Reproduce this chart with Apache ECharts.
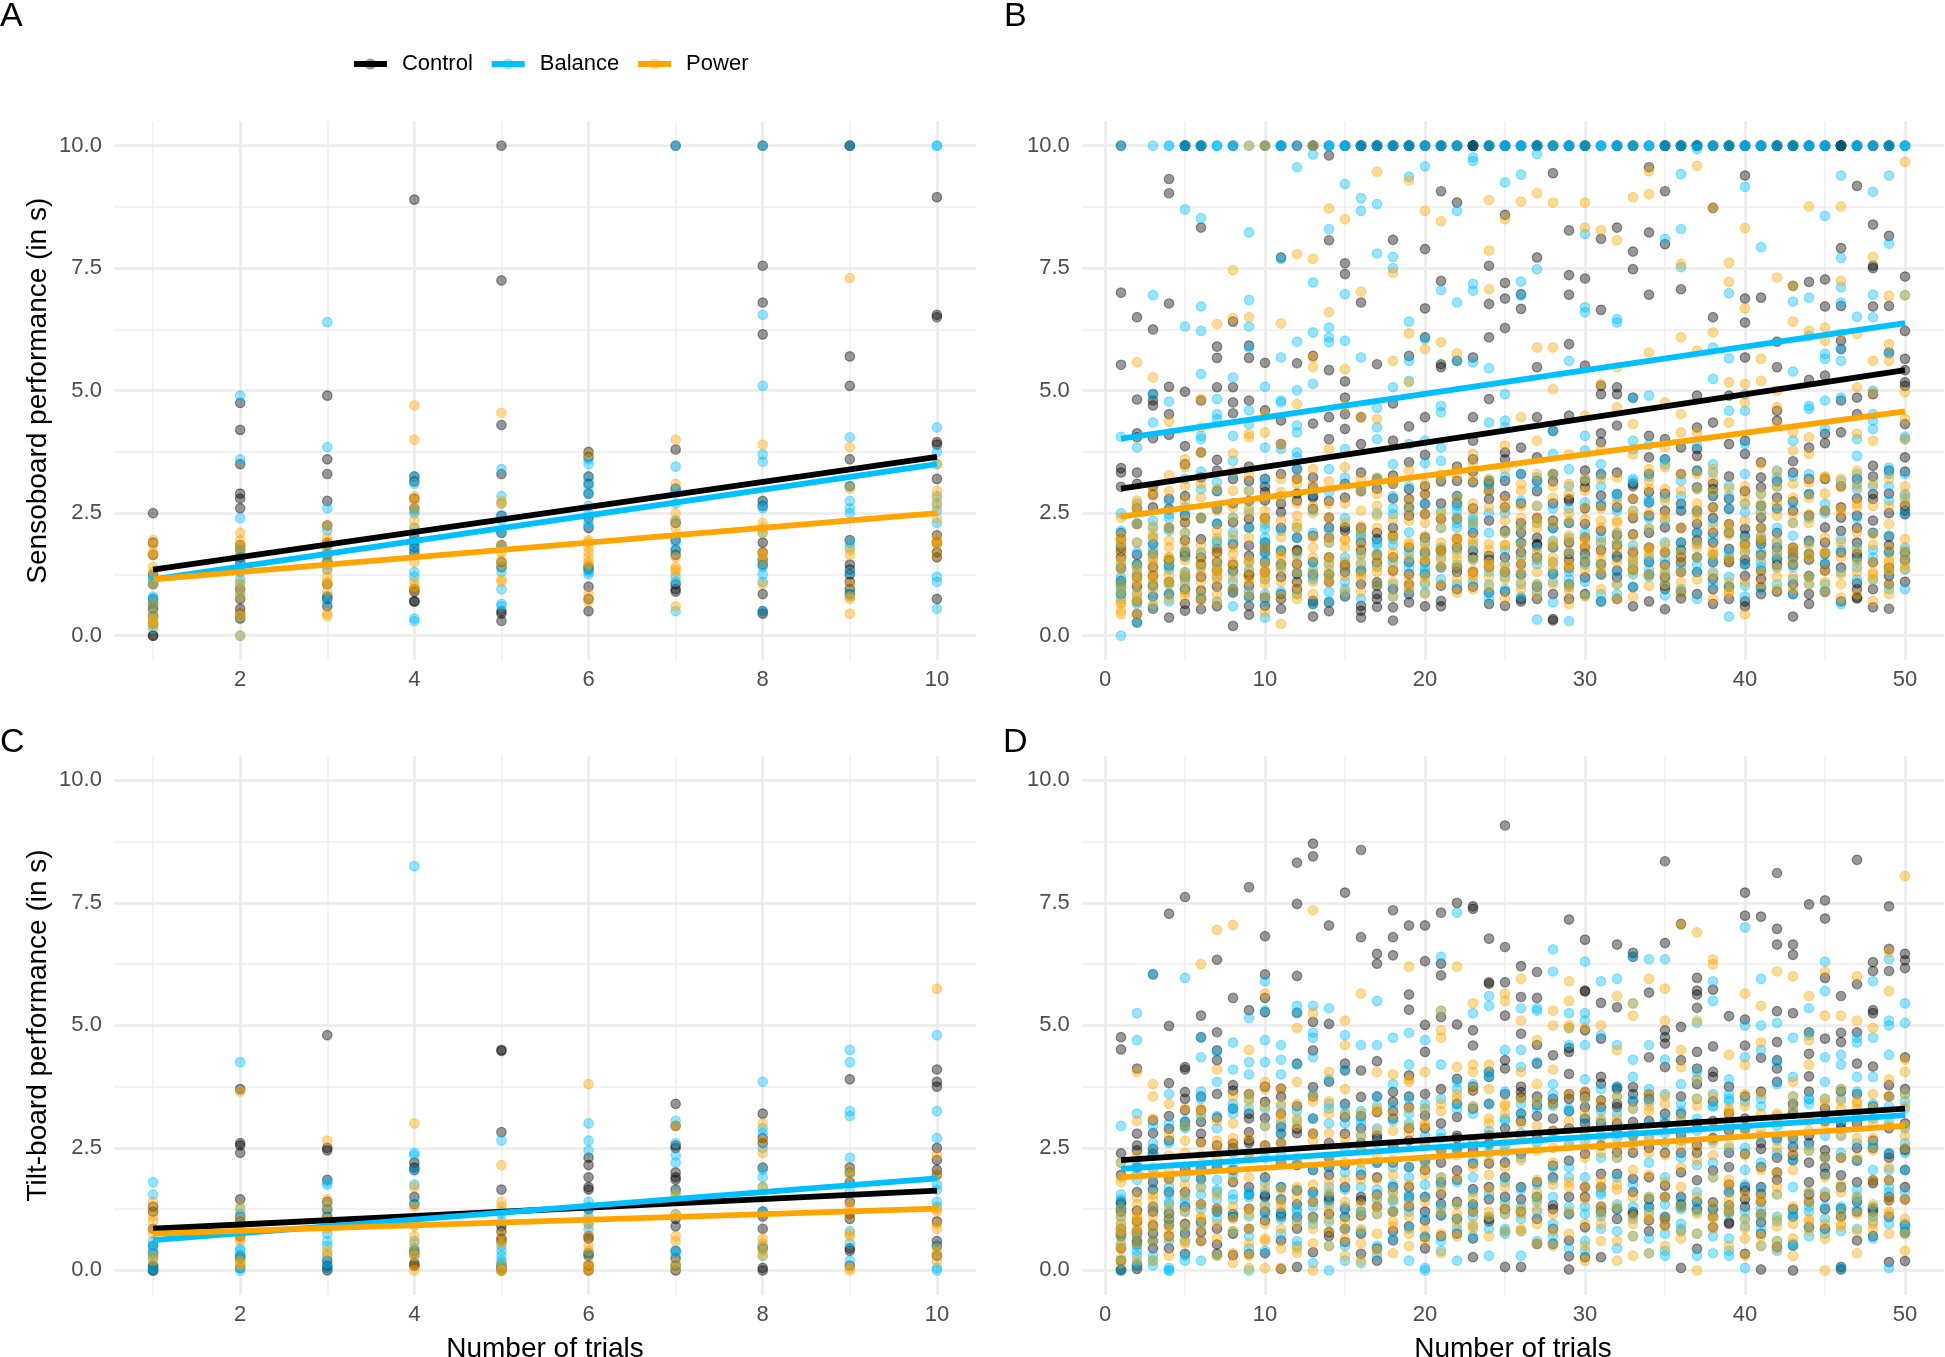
<!DOCTYPE html>
<html>
<head>
<meta charset="utf-8">
<style>html,body{margin:0;padding:0;background:#fff}#c{width:1945px;height:1357px}</style>
<script src="https://cdn.jsdelivr.net/npm/echarts@6/dist/echarts.min.js"></script>
</head>
<body>
<div id="c"></div>
<script>
// ---- group names and tick labels ----
const groupNames = ['Control', 'Balance', 'Power'];
const yTicks = [0, 2.5, 5, 7.5, 10];
const yMinor = [1.25, 3.75, 6.25, 8.75];
const xTicksShort = [2, 4, 6, 8, 10];
const xMinorShort = [1, 3, 5, 7, 9];
const xTicksLong = [0, 10, 20, 30, 40, 50];
const xMinorLong = [5, 15, 25, 35, 45];

// ---- fitted lines (value at first and last trial) ----
const aLines = [[1.35, 3.65], [1.15, 3.5], [1.15, 2.5]];
const bLines = [[3.0, 5.42], [4.02, 6.38], [2.43, 4.58]];
const cLines = [[0.85, 1.63], [0.62, 1.88], [0.75, 1.26]];
const dLines = [[2.25, 3.3], [2.07, 3.17], [1.9, 2.95]];

// ---- panel A: one list per trial 1..10 ----
const aControl = [
[2.5,1.9,1.65,1.25,1.05,.75,.65,.55,.4,.25,0,0],
[4.75,4.2,3.5,2.9,2.8,2.6,1.85,1.75,1.6,1.5,.95,.75,.55,.45,.35],
[4.9,3.6,3.3,2.75,2.25,1.9,1.85,1.65,1.5,1.05,.8,.75,.6],
[8.9,3.25,3.15,2.8,2.6,2,1.9,1.8,1.7,.95,.9,.7,.7],
[10,7.25,4.3,3.3,2.45,2.1,1.85,1.5,1.4,.5,.45,.3],
[3.75,3.65,3.25,3.1,2.9,2.4,2.2,1.4,1.35,1,.75,.5],
[10,3.8,3,2.3,1.95,1.75,1.65,1.05,.95,.9],
[10,7.55,6.8,6.15,2.75,2.65,1.9,1.7,1.55,1.45,.85,.5,.45],
[10,10,5.7,5.1,3.6,3.05,1.95,1.45,1.35,1.25,1.1,.95,.85],
[8.95,6.55,6.5,3.95,3.9,3.2,2.05,1.9,1.7,1.6,.75]];
const aBalance = [
[1.2,1.15,1.1,.8,.75,.6,.4,.35,.25,.15],
[4.9,3.6,2.4,1.8,1.65,1.5,1.3,1.15,1.05,.85,.4,0],
[6.4,3.85,2.6,2.15,1.7,1.55,1.45,1.35,.8,.7],
[3.25,3.1,2.55,2.5,2.2,2.1,1.85,1.75,1.3,1.2,.35,.3],
[3.4,2.85,2.7,2.45,2.35,2.1,1.8,1.4,1.3,.95,.65,.6],
[3.6,3.5,3.2,3.05,2.9,2.65,2.5,2.3,2.25,1.4,1.3,1.25],
[10,3.45,3,2.95,2.7,2.35,1.9,1.75,1.2,1.1,.5],
[10,6.55,5.1,3.7,3.55,2.7,2.6,2.1,1.55,1.4,1.25,1.1,.5],
[10,4.05,3.05,2.75,2.6,2.5,1.9,1.8,1.3,.9,.8],
[10,10,4.25,3.75,3.5,2.85,2.7,2.55,2.3,1.2,1.1,.55]];
const aPower = [
[1.95,1.85,1.7,1.65,1.4,1.3,1.05,.65,.45,.35,.3,.25,.2],
[2.1,1.95,1.85,1.75,1.1,.95,.8,.45,.4,0],
[2.25,2,1.9,1.75,1.6,1.35,1.2,1.1,1.05,.9,.45,.4],
[4.7,4,2.85,2.75,2.6,2.35,2.2,1.5,1.1,1,.95],
[4.55,2.75,2.7,1.85,1.7,1.55,1.45,1.15,1.1],
[3.7,1.95,1.9,1.8,1.7,1.6,1.5,1.45,.85,.7],
[4,3.1,2.5,2.35,2.2,1.6,1.4,1.35,1.3,.6],
[3.9,2.3,2.2,2.1,1.7,1.65,1.55,1.05],
[7.3,3.85,3,1.75,1.65,1.05,.8,.75,.45],
[3.5,2.95,2.8,2.65,2.4,2,1.9,1.85,1.65]];

// ---- panel C: one list per trial 1..10 ----
const cControl = [
[1.3,1.2,.85,.5,.35,.1,.05,0,0],
[3.7,2.6,2.55,2.4,1.45,1.1,1,.7,.3,.25,.05],
[4.8,2.5,2.45,1.85,1.4,1.25,1.1,.2,.1,.05,0],
[2.2,2.1,2.05,1.5,1.35,.4,.35,.15,.1,.1],
[4.5,4.48,2.82,1.65,.9,.8,.65,.6,.1,.05,0],
[2.3,2.15,1.9,1.7,1.65,1.25,.7,.65,.35,.3,.1,0],
[3.4,2.95,2.55,2.5,2,1.9,1.85,1.65,1.05,.9,.4,.25,.1,0],
[3.2,2.7,2.6,2.1,1.2,1.1,.85,.45,.05,0],
[3.9,2.1,2,1.8,1.4,1.15,1.05,.45,.4,.1],
[4.1,3.85,3.75,2.5,2.25,2.05,1.95,1,.6,.5,.3]];
const cBalance = [
[1.8,1.55,.6,.5,.4,.35,.3,.25,.05,0],
[4.25,1.25,1.15,.95,.45,.4,.3,.25,.05,0],
[1.8,1.75,1.35,1.2,.75,.6,.5,.3,.15,.05],
[8.25,2.4,2.35,2.05,1.75,1.4,.95,.6,.45,.3],
[2.65,1.2,1.15,1,.5,.4,.3,.2,.15,.05],
[3,2.65,2.45,1.4,1.3,1.25,1.1,.95,.85,.35],
[3.05,2.6,2.35,2.2,1.6,1.45,1.15,.4,.35,.1],
[3.85,2.9,2.8,2.5,2.05,1.9,1.7,1.2,.5,.3],
[4.5,4.25,3.25,3.15,2.3,2,1.6,.8,.55,.2],
[4.8,3.25,2.7,1.75,1.65,1.4,1.3,.5,.05,0]];
const cPower = [
[1.4,1.25,1.1,1,.85,.75,.3,.2],
[3.65,1.3,1.05,.65,.6,.2,.15,.1],
[2.65,1.45,1.3,1.05,.9,.85,.4,.35],
[3,1.7,1.3,.9,.7,.55,.35,.3,.1,0],
[2.15,1.4,1.3,.75,.6,.55,.1,0,0],
[3.8,1.05,.95,.7,.5,.4,.15,.05,0],
[2.95,1.55,1.5,1.15,.7,.6,.15,.05],
[3,2.65,2.4,1.7,.65,.55,.4,.3],
[2.05,1.95,1.35,1.25,1.1,.75,.7,.05,0],
[5.75,2.35,1.95,1.25,1.2,.95,.85,.45,.35,.2]];

// ---- panel B: number of recordings at the 10.0 ceiling per trial 1..50 ----
const bTopControl = [1,0,0,0,4,3,0,1,0,1,2,1,2,1,2,4,4,3,4,2,3,2,6,3,3,2,4,2,3,3,1,3,2,1,4,4,4,2,4,3,3,4,4,3,3,6,3,2,4,1];
const bTopBalance = [1,0,1,2,2,2,3,2,1,1,3,1,1,3,3,2,2,2,2,2,2,2,1,2,3,3,2,2,3,2,3,3,2,3,2,2,2,2,2,3,3,2,2,3,3,1,3,2,2,3];
const bTopPower = [0,0,0,0,0,0,0,0,1,1,0,0,1,0,0,0,0,0,0,0,0,0,0,0,0,0,0,0,0,0,0,0,0,0,0,0,0,0,0,0,0,0,0,0,0,0,0,0,0,0];

// ---- panel B: one list per trial 1..50 (below the ceiling) ----
const bControl = [
[7,5.53,3.42,3.33,3.04,1.97,1.8,1.73,1.38,1.12,1.05],
[6.5,4.82,4.13,4.05,3.33,3.1,2.28,1.65,1.46,1,.44,.27],
[6.25,4.93,4.8,4.7,4.03,2.88,2.62,1.87,1.67,1.22,1.02,.8],
[9.32,9.03,6.78,5.08,4.52,4.1,2.79,2.59,1.53,1.43,1.1,.37],
[4.98,3.87,3.5,2.45,2.31,1.7,1.63,1.2,.65,.51],
[8.33,4.8,3.74,3.23,1.97,1.6,1.46,.92,.54],
[5.9,5.67,5.07,3.59,3.37,2.59,2.28,1.77,1.7,1.33,1],
[6.41,5.07,4.76,4.54,3.2,2.31,1.87,1.33,.88,.2],
[5.92,5.67,4.8,3.45,3.16,2.38,2.21,1.84,1.63,1.22,1.02,.61,.43],
[5.57,4.6,3.04,2.93,2.76,1.9,1.8,1.7,1.5,.78,.61],
[7.72,4.39,3.91,2.69,2.52,1.73,1.46,1.2,.85,.75],
[5.56,2.76,3.2,2,1.73,1.46,1.26,2.9,1.1],
[5.71,4.33,3.23,3.03,2.82,2.59,2.04,1.5,.71,.39],
[9.8,8.07,5.42,4.46,4.01,2.41,2.21,1.6,2,.68,1.1],
[7.6,7.38,5.19,4.86,4.52,4.22,2.82,2.21,2.14,1.45,1.3],
[6.8,4.46,3.91,3.33,1.33,.61,.51,.37,1.9,2.2],
[5.54,2.1,1.97,1.5,1.09,1.02,.75,.59,3.2],
[8.08,4.74,3.98,3.27,2.8,2.04,1.33,.58,.31,1.6],
[5.71,4.27,3.54,2.99,2.79,2.62,1.26,1.05,.68,1.8],
[7.89,6.68,6.09,4.46,3.69,2.89,2.69,2.48,1.7,1.26,2],
[9.07,7.24,5.54,5.48,2.7,2.38,1.73,1.02,.71,1.4],
[8.84,5.61,3.45,3.16,2.38,1.97,1.8,1.39,2.7],
[5.68,4.46,3.98,3.6,3.13,1.73,1.6,2.6,1.3],
[7.55,6.77,6.09,4.83,3.16,2.96,2.79,2.35,1.63,.88,1.4],
[8.59,7.2,6.88,6.28,3.74,3.6,3.16,2.62,2.14,.61,1.6],
[6.97,6.67,3.84,2.7,1.46,.75,.7,1.7,2.3,1.9],
[7.72,5.48,4.46,3.64,3.16,1.87,1.6,2.4,2,1],
[9.44,4.18,2.7,1.8,1.26,.34,.31,3.3,2.2],
[8.27,7.36,6.96,5.95,4.49,2.79,1.67,1.38,1.05,2.3,1.9],
[7.29,5.51,3.37,3.03,2.28,1.67,1.19,2.6,2,1.5],
[8.1,6.65,5.1,4.93,4.13,3.95,3.3,2.86,2.65,2.14,1.46],
[8.33,5.07,4.93,4.29,3.33,2.89,2.62,1.84,1.63,1.33,1.19],
[7.84,7.48,4.86,2.79,2.07,.99,1.7,3.1,2.4],
[9.56,8.23,6.96,4.08,3.64,2.93,2.72,1.8,.7,2.1,1.5],
[9.07,7.99,4.01,3.6,2.21,1.19,1.02,.54,2.9,1.7],
[7.07,3.84,2.69,2.55,1.6,1.5,.76,2.2,1.9,1.3],
[4.9,4.25,3.81,3.67,3.37,3.03,2.28,2.1,1.6,1.3],
[8.73,6.5,4.35,3.1,2.99,2.62,1.9,1.5,1.16,.95,2.4],
[4.9,3.91,2.79,2.59,2.28,1.77,2.1,1.5,1],
[9.39,6.88,6.39,5.68,3.98,3.71,2.18,2.04,1.87,1.46,1.22,.7],
[6.9,3.54,3.23,3.03,2.41,1.87,1.33,1.16,.99,2.2,1.65],
[6,5.48,4.59,4.39,2.82,1.56,2.6,2.1,1.8],
[7.14,3.56,3.33,2.74,1.8,1.7,1.6,1.05,.39],
[7.22,5.22,3.84,2.89,2.45,1.94,1.67,1.22,.85],
[7.27,6.72,5.31,4.12,3.93,3.2,2.21,1.67,1.46,1.33],
[7.91,6.73,6.02,5.85,4.8,4.15,2.62,2.41,2.14,1.39],
[9.18,4.86,4.52,1.67,1.6,1.07,.78,.76,3.2,2.8,2.2],
[8.39,7.55,7.5,6.72,4.93,3.47,2.89,2.79,.58,2.1,1.5],
[8.16,6.73,5.78,3.37,2.02,1.71,1.39,1.22,1.05,2.5],
[7.33,6.22,5.65,5.42,5.17,5.1,4.32,3.64,2.65,2.48,1.7,2.55]];
const bBalance = [
[4.06,2.14,1.87,1.19,.88,0,1.1,1,.95],
[3.84,1.9,1.46,1.4,.65,.27,2.3,1.7],
[6.95,4.93,4.35,2.35,1.87,1.6,.82,1.75,2],
[4.78,2.48,2.14,1.53,1.4,.85,1.45,1.35,2.4],
[8.7,6.31,2.62,1.26,1.12,1.3,2.5,2.1,1.6],
[8.52,6.72,6.22,5.34,4.08,4.01,2.99,2.41,1.4],
[4.83,4.52,4.42,3.13,2.96,1.94,1.9,1.2,2.3],
[5.27,4.08,3.57,2.41,2.11,.92,1.3,1.1],
[8.23,6.85,6.31,5.88,4.6,4.32,2.96,.78,2.2,1.5],
[5.08,3.84,2.28,2.18,.85,.71,.37,2,1.9,1.7],
[7.69,5.68,4.8,4.76,3.81,2.14,1.4,1.45],
[9.56,6,5.01,4.29,4.15,3.74,3.64,2.21,2,1.3],
[9.82,7.21,6.19,5.14,2.1,1.15,2.9,1.5,1.2],
[8.3,6.29,6.09,5.99,3.4,2.93,1.9,1.25,.7],
[9.22,6.97,6.02,3.81,3.23,.85,.95,1.6],
[8.93,8.67,5.68,2.11,1.65,2.05,2,1.3],
[8.81,7.8,4.65,4.25,4.01,1.67,1.42,1.9,2.5],
[7.73,7.5,5.07,3.5,2.48,1.97,1.05,2.6,1.5],
[9.37,6.41,5.61,5.2,3.91,2.11,1.7,1.39,2.6],
[9.58,6.05,3.98,3.52,1.33,.88,1.25,1.4,1.9],
[7.05,4.69,4.56,3.84,3.57,2.55,1.39,2.2,1.8],
[8.67,6.8,5.61,2.65,2.55,2.41,2.21,2.3,1.45],
[9.76,9.69,7.18,7.04,5.58,2.41,2.28,2.35,2.2],
[5.46,4.35,3.16,1.05,.88,1.5,1.3,2.5],
[9.25,4.93,4.39,4.25,2.5,1.46,2.1,1.2],
[9.41,7.23,6.94,3.3,2.21,1.05,1.6,1.9],
[9.83,7.48,3.23,3.03,1.46,1.05,.33,1.8,2.3],
[4.18,3.71,1.94,1.82,1.5,.68,2.6,1.3],
[5.61,3.4,2.6,.99,1.7,2,1.3,.3],
[8.2,6.7,6.6,4.08,3.78,2.72,.82,2.1,1.6],
[3.27,1.46,.85,2.7,2,1.9,3.5],
[6.46,6.39,2.89,2.82,.85,1.3,2.1,1.9],
[3.98,3.2,1.84,1.53,3.8,4.85,1.25,1],
[2.79,2.72,2.18,1.53,3.9,4.9,1.2,1.35],
[8.1,2.82,.82,3.6,3.5,1.9,1.3],
[9.42,8.3,7.52,3.16,2.62,1.9,1.4],
[9.93,3.88,1.87,1.46,3,2.5,2.1,1.3],
[5.88,5.24,3.5,3.33,2.31,2,1.3,1.55],
[6.99,5.66,4.59,3.06,2.11,.99,.39,1.7,2.6],
[9.16,4.93,4.59,3.91,2.69,2.52,1.02,1.7,2],
[7.93,2.89,2.52,2.04,1.9,1.7,1.4],
[3.37,3.23,2.59,1.39,2.2,1.9,1.6],
[6.82,5.39,3.98,2.04,.85,2.7,2.3,1.4],
[6.9,6.12,4.69,4.63,2.89,1.9,2.4,1.2],
[8.57,5.75,5.65,4.8,4.22,2.69,1.7,1.05],
[9.39,7.71,7.11,6.8,5.85,5.61,4.86,1.97,.65],
[6.51,4.01,3.67,3.1,2.99,1.39,1.8,2.4],
[9.06,6.96,6.5,5,4.52,4.39,4.22,2.1,1.6],
[9.39,8,5.76,3.43,2.76,3.3,1.7,1.3],
[6.95,4.06,4.01,2.89,2.8,1.8,1.53,2.5,1.7]];
const bPower = [
[2.41,2.04,1.9,1.56,1.05,.68,.51,.44,1.75,1.5,.9],
[5.58,2.76,2.65,2.28,1.16,.88,.78,.44,1.9,1.4,1.1],
[5.27,2.97,2.24,2.07,1.19,.65,1.67,1.55,1.3,1.1,2],
[4.37,3.27,1.94,1.8,1.05,2.2,1.25,1.1,1.5,1.6],
[3.6,3.44,3.06,2.35,1.73,1.53,.88,1.9,1.3,1.2,2.1],
[4.83,4.25,3.74,2.82,2.41,1.67,1.26,.88,.71,1.5,1.4],
[6.36,2.14,1.46,1.33,.68,3,2,1.75,1.3,1.6,1.2],
[7.46,6.48,3.72,2.96,2.62,1.67,1.19,1.8,1.5,1.4,2.4],
[6.5,4.12,4.05,3.27,2.62,2.48,1.55,1.33,2,1.1,1.2],
[4.52,4.15,2.55,1.46,1.33,1.16,.48,2.4,2.35,1.25,1.05],
[6.37,3.91,2.93,2.35,2.01,1.67,.24,1.6,1.45,2.8,1.1],
[7.79,4.73,3.2,2.45,2.28,1.7,1.02,.75,2.2,1.5,3.1],
[7.69,5.68,5.48,3.1,1.8,1.1,2.65,2.5,2,1.3],
[8.72,6.6,3.81,2.41,2.01,1.6,1.22,2.7,1.9,1.35],
[8.5,5.44,4.69,3.44,1.97,1.22,2.3,1.8,1.5,1.4],
[7.02,4.46,3.2,2.96,2.24,1.67,1.5,1.19,2.1,1.85],
[9.47,4.42,3.23,2.65,2.2,1.67,1.55,1.3,2.9],
[7.41,5.61,3.2,2.38,2.07,2,1.7,1.4,1.1,1.3],
[9.29,6.17,5.17,3.37,2.35,1.9,1.6,1.05,1.2,2.75],
[8.67,5.85,3.1,2.04,1.87,1.56,1.09,2.5,2.3,1.75,1.2],
[8.46,5.99,3.23,2.21,1.75,1.4,2.5,1.9,2.4,1.7],
[5.76,2.82,2.01,1.85,1.67,.88,3.4,2.4,1.95,1.4],
[3.71,3.2,2.7,1.97,1.33,1.19,3.5,2.55,2.3,1.25],
[8.89,7.86,7.07,2.62,1.87,1.75,3.2,1.5,1.2,1.4],
[8.5,3.88,3.4,2.35,1.46,1.33,.75,2.6,1.85,2.1],
[8.86,4.46,2.96,2.65,2.2,1.85,1.1,3.1,1.6,1.3],
[9.03,5.88,3.98,3.3,2.41,1.7,1.3,1.05,2.3,2.2],
[8.84,5.88,5.03,2.82,2.3,1.9,3.3,1.85,1.5,1.6],
[2.89,2.35,2.05,1.46,1.02,3.7,2.5,1.7,1.95,.65],
[8.84,8.33,4.49,2.96,2.62,2.38,1.8,3.2,2,1.35],
[8.28,5.14,2.35,2.21,1.9,1.55,3.8,2.6,1.7,1.4],
[8.07,5.48,4.66,3.23,2.35,1.75,1.5,2.1,2.3,.75],
[8.95,4.32,2.8,2.45,2.04,1.6,1.52,3.7,1.4,1.3],
[9.48,9.01,5.78,2.2,1.8,1.75,1.02,3.4,3,2.5],
[4.76,3.44,2.99,2.48,2.38,1.7,1.4,1.25,3.85],
[7.59,6.09,4.52,4.15,2.96,2.2,1.7,1.3,1.09],
[9.59,5.82,4.15,3.3,2.99,2.52,1.6,1.8,2.4],
[8.74,6.19,2.6,2.2,1.67,1.65,1.26,3.4,3.2],
[7.61,7.22,5.17,4.35,2.28,1.56,1.1,.88,3,2.05],
[8.32,6.68,5.14,4.76,2.86,2.35,1.7,.44,1.9,2.7],
[5.65,5.2,2.69,2,1.6,1.3,3.5,2.2,2.5],
[7.31,5,4.66,4.32,3.03,2.45,1.94,1.4,1.2,2.7],
[7.14,6.41,4.15,3.78,2.82,2.48,1.8,1.22,2.3,1.5],
[8.76,6.22,4.05,3.71,3.13,2.82,2.48,1.6,1.2,1.85],
[6.29,6.02,3.23,2.55,1.33,.88,2.9,2,1.7],
[8.76,7.24,6.16,3.03,2.59,.78,1.9,1.6,2.5],
[6.16,5.07,4.12,3.37,2.62,2.11,1.5,2.7,1.75],
[7.73,5.61,4.97,3.98,2.65,2.07,1.5,.71,1.3,1.25],
[6.94,5.95,5.61,2.28,1.33,1.05,1.8,1.55,3.2,1.35],
[9.67,6.95,4.97,4.42,4.01,2.86,1.97,1.36,2.7,1.6]];

// ---- panel B: the crowded lower band, further recordings per trial 1..50 ----
const bControlLow = [
[2.1,1.6,.85],[2.6,1.2,.7],[3.05,1.4,.55],[2.2,1.55,.85],[2.85,1.95,.95],[2.4,1.2,.75],[2.95,1.5,.6],[2.7,1.45,.95],[2.75,1.25,.8],[3.2,2.4,1.3],
[3.3,2.2,.55],[3.4,1.75,.95],[2.85,1.25,.65],[2.75,1.25,.5],[3.1,1.4,.8],[2.95,1.75,1.05],[3,1.65,.85],[3.1,2.2,.95],[2.45,1.5,.85],[3.05,1.5,.6],
[3.15,1.75,.6],[2.85,1.3,.95],[3.35,2.1,1],[3.1,1.55,.65],[2.85,1.3,.9],[3.3,2.1,1.25],[2.95,1.85,.75],[3.15,2.35,.85],[2.75,1.55,.75],[3.15,1.8,.85],
[1.75,1.25,.7],[2.05,1.6,.75],[3.05,1.35,.6],[3.3,2.45,1.25],[2.55,1.45,.95],[3.3,1.75,.9],[2.55,1.95,.85],[2.85,2.1,.65],[3.25,1.55,.75],[2.95,1.55,.6],
[2.65,1.95,.85],[3.15,1.45,.9],[2.55,1.45,.85],[3.2,1.55,.65],[2.55,1.9,.9],[3.05,1.7,.7],[2.45,1.9,.95],[3.25,2.35,.95],[2.9,1.85,.55],[3.35,1.55,1.1]];
const bBalanceLow = [
[2.5,1.45,.75],[2.7,1.25,.85],[2.2,1.05,.6],[2.75,1.05,.7],[3.2,1.75,.95],[3.35,1.7,.8],[2.6,1.45,.7],[3.3,1.95,.6],[2.55,1.35,.9],[3.15,1.55,1.15],
[2.85,1.75,.9],[3.4,1.65,.85],[2.55,1.35,.65],[2.15,1.45,.9],[2.4,1.35,1.1],[3,1.45,.75],[3.2,1.85,1.05],[2.85,1.85,.8],[3.05,1.55,.9],[2.7,1.65,1.05],
[3.25,1.6,1.15],[2.85,1.75,1.05],[1.85,1.55,1.1],[3.05,2.1,.75],[3.25,1.75,.95],[2.75,1.25,.8],[2.65,1.55,.9],[3.3,2.2,1.1],[3.05,2.3,1.15],[3.2,1.45,1.1],
[3.05,1.25,.7],[2.55,1.6,1.05],[3.15,2.55,1.45],[3.25,2.4,1.6],[2.35,1.55,1.05],[2.85,1.7,.95],[3.35,1.6,.75],[2.9,1.65,1.05],[2.85,1.6,1.2],[3.3,1.45,.8],
[2.65,1.5,.95],[3.05,1.7,1.05],[3.25,1.6,1.15],[3.3,1.65,1.05],[2.5,1.5,.9],[3.15,1.75,1.3],[3.3,1.55,1.15],[3.05,1.75,1.15],[3.05,2.05,.95],[3.3,1.35,.95]];
const bPowerLow = [
[1.95,1.35,.65],[2.55,1.3,.7],[2.85,1.45,.95],[2.95,1.6,.75],[2.75,1.05,.8],[3.1,1.85,1.1],[2.55,1.1,.85],[3.35,2.05,.95],[2.95,1.5,.85],[2.85,1.8,.8],
[3.2,1.35,.8],[2.7,1.3,.85],[3.4,1.6,.85],[3.15,1.5,1.1],[2.7,1.95,.9],[2.55,1.25,.9],[2.45,1.4,1.05],[3.1,1.6,.8],[2.55,1.85,.95],[2.9,1.55,.85],
[3.3,1.55,1.05],[3.25,1.55,1.15],[1.9,1.55,.95],[2.95,1.45,1],[2.75,1.85,1.15],[2.4,1.45,.95],[2.65,1.55,.85],[3.05,1.4,1.05],[3.1,1.4,.9],[1.9,1.55,.8],
[3.2,1.3,.95],[2.7,1.9,1.05],[2.55,1.75,.8],[3.15,1.65,1.25],[2.75,1.85,1.05],[3.3,1.55,.9],[2.7,1.9,1.15],[2.95,1.75,.75],[2.15,1.55,.9],[3.05,1.8,1.1],
[2.9,1.95,1.05],[3.35,1.7,.95],[3.1,1.7,.95],[2.3,1.65,1.05],[3.25,1.7,1.1],[3.2,1.25,1.05],[3.05,1.3,.85],[3.1,1.85,1.15],[2.65,1.5,.85],[3.05,1.75,1.45]];

// ---- panel D: one list per trial 1..50 ----
const dControl = [
[4.76,4.51,2.39,1.4,1.36,1.26,1.2,.85,.75,.2,.02,0],
[4.12,2.79,2.55,2.45,1.22,.75,1,.54,.8,.1,.03],
[6.04,3.06,2.48,2.38,1.8,1.3,1.2,.92,.75,.6],
[7.28,4.99,3.82,2.89,2.65,1.87,1.16,.92,1.05,.7],
[7.62,4.15,4.1,3.64,3.27,3.03,2.95,2.07,1.3,.95,.34],
[5.2,4.76,3.27,3.03,2.79,2.62,2.07,1.87,.99,.78],
[6.34,4.86,4.49,4.29,3.12,2.55,1.26,1.2,.53,.34],
[5.56,3.78,3.67,2.59,2.5,1.8,1.15,1.09,.31],
[7.82,5.31,3.2,3.1,2.82,2.65,2.6,1.7,1.26,.34],
[6.82,6.04,5.56,5.27,3.44,3.11,2.55,1.9,1.53,1.5,1.02],
[3.71,3.2,2.93,2.79,2.6,1.7,1.16,1.1,.61,.03],
[8.32,7.48,6.01,5.26,4.22,2.89,2.8,1.63,1.09,.85,.07],
[8.71,8.45,5.07,4.49,3.74,2.79,1.6,1.09,.37,1.4],
[7.04,5.03,2.11,1.95,1.43,.78,.7,2.3,1.5],
[7.71,4.22,4.08,3.13,2.79,1.09,.85,.58,1.7],
[8.58,6.8,4.08,3.54,1.5,1.43,1.12,.75,.34,2.6],
[6.46,6.26,4.27,3.23,2.69,.45,.2,1.3,2.2,1.9],
[7.35,6.8,6.43,3.64,3.44,2.2,1.2,.61,1.7,3.1],
[7.04,5.63,5.32,3.98,3.33,2.11,1.7,1.5,.9,2.9],
[7.04,6.31,5.01,4.46,3.16,2.25,1.5,1.02,.68,1.2,2.9],
[7.3,6.26,6.02,5.17,3,2.2,1.36,1.12,.7,1.8],
[7.5,5.02,3.91,3.13,2.5,2.04,1.05,.75,2.7,1.4],
[7.43,7.38,4.9,4.59,3.67,3.3,2.18,1.66,.65,.27,1.2],
[6.77,5.88,5.85,4.05,3.95,2.18,1.7,1.05,1,2.6],
[9.08,6.6,5.88,5.2,4.29,4.12,2.9,.07,1.9,1.5],
[6.21,5.58,4.83,3.64,3.53,3.2,2.38,1.7,.07,1.2],
[6.09,5.56,4.6,4.22,3.37,1.8,.54,2.7,1.5],
[4.39,3.4,2.14,1.9,1.33,.54,2.85,.85],
[7.16,4.54,4.46,4.01,3.6,3.5,2.24,.61,.29,.02,1.5],
[6.75,5.71,5.69,4.9,3.64,3.33,2.38,.88,.27,3,1.5],
[5.46,4.73,3.95,3.81,3.47,3.33,1.97,1.7,.27,1.3],
[6.65,5.37,3.74,3.4,3.33,2.41,1.97,1.05,2.8],
[6.48,6.4,3.74,3.6,3.03,1.87,1.19,2.4,1.6],
[5.67,4.35,3.6,1.02,2.5,1.9,1.3,.8],
[8.35,6.68,4.9,4.76,4.63,4.15,1.73,1.5,1.09,.92,3],
[7.07,4.97,4.29,2.4,1.5,1.3,3.2,2,.05],
[5.97,5.71,5.63,5.36,4.46,4.12,3,2.4,1.84,1.4,.44],
[5.73,4.57,4.05,3.95,2.04,1.39,1.1,.88,2.7],
[5.19,2.4,2.11,1.75,1.33,.95,3.2,.98,1.6],
[7.71,7.24,5.12,4.59,2.38,1.7,1.63,1.45,.34,3.1],
[7.22,4.34,2.48,2.11,1.56,1.4,1.15,.98,.02,2.6],
[8.11,6.97,6.65,5.29,4.66,4.29,4.12,2.3,.48,2],
[6.65,6.44,5.25,3.4,2.52,2.35,2.25,1.1,.51,0],
[7.47,4.86,4.42,3.96,2.6,2.2,.88,1.8,1.4],
[7.55,7.18,5.97,4.73,3.3,2.45,2.31,1.97,1.5,.85],
[5.6,4.85,4.66,2.9,1.94,1.26,.07,.02,1.7,2.3],
[8.38,5.84,4.86,4.22,3,2.24,1.8,1.4,.61],
[6.29,6.11,5.31,5.25,4.16,2.5,1.84,1.78,1.26,.7],
[7.43,6.56,6.11,3.78,2.38,1.84,1.43,1.09,.17,2.9],
[6.46,6.33,6.17,4.35,3,2.48,2.45,.92,.78,.19,1.7]];
const dBalance = [
[2.95,2.2,1.45,1.3,1.25,1.1,.8,.75,.2,0],
[5.25,4.7,2.15,2,.7,.5,.3,.15,.1,3.2],
[6.05,2.95,2.6,2.4,1.9,1.65,1.3,.3,.2,.1],
[3.6,3,1.7,1.55,1.4,1.2,.6,0,0,.05],
[5.97,3.05,2.9,1.9,1.5,1.2,.85,.3,.2],
[4.75,4.35,3.65,3.5,2.1,1.85,1.55,1.25,.2],
[4.45,3.85,2.9,2.1,1.85,1.65,1.45,1.2,.3],
[4.65,4.1,3.4,3.2,2.1,1.95,1.55,1.45,.8],
[5.15,4.25,4,3.5,2.4,1.6,1.5,.7,.45,0],
[5.9,5.3,4.7,4.25,3.3,2.3,1.6,1.35,.4],
[4.6,4.3,4,3,2.8,2.35,1.7,1.2,.75],
[5.4,5.25,4.2,3.05,2.2,1.65,1.2,.6,.5],
[5.4,4.85,4.75,4.35,3.6,2.05,1.55,.95,.15],
[5.35,3.9,3.4,3,2.1,1.7,1.35,.5,0],
[4.8,4.1,3.2,3,2.5,2,1.3,1.1,.5,.2],
[4.6,3.1,3,2.75,2.05,1.7,1.2,.8,.15],
[5.5,4.6,3.55,2.6,2.2,1.65,1.45,.5,.3],
[4.75,3.8,3.35,2.55,1.75,1.4,1.45,2.1,.65],
[4.85,4.2,3.5,3.2,2.1,1.9,1.55,1.2,.2],
[4.7,3.3,2.75,2.2,1.75,1.5,.7,0,.05],
[6.4,5.3,4.2,3.5,2.8,1.9,1.3,.6,.4],
[7.3,3.85,3.7,3.4,2.5,1.8,.85,.2,1.35],
[5.25,3.8,3.2,2.6,1.9,1.6,1.1,.9,.7],
[5.6,5.4,4.05,3.95,3.4,2.4,1.55,.85,.3],
[4.5,3.65,3.1,2.4,1.8,1.4,.85,.8,.75],
[5.35,4.5,4.15,3.4,2.3,1.65,1.05,.3,.8],
[5.35,5.3,4.25,3.3,2.6,1.75,1.4,.6],
[6.55,6.1,3.8,3.6,2.1,1.85,1.5,.7,.55],
[5.25,4.95,4.6,3.3,2.55,1.9,1.3,.45],
[6.3,5.25,5.1,4.6,3.9,3.1,1.9,1.3,.6,.4],
[5.9,4.8,3.7,3.05,2.3,1.6,1.55,.85,1.1],
[5.95,4.6,3.75,3.2,2.7,1.9,.8,1.35,.45],
[6.4,5.45,4.3,3.95,3.3,2.6,1.75,.7,1.3],
[6.35,4.6,3.7,3.45,2.2,1.5,1.3,.65,.35],
[6.35,4.3,3.6,2.8,1.9,1.35,.75,.4,.3],
[3.8,3.4,3.05,2.65,2.3,1.3,1.25,.8,.85],
[5.05,4.05,3.9,3.1,2.15,1.6,1.4,.75,.3],
[5.9,5.5,3.6,3.35,2.2,1.9,1.3,.7,.35],
[3.9,3.6,3.5,2.5,1.6,1.15,.65,.4,.3],
[7,5,4.35,3.45,2.05,1.75,1.2,.9,.05],
[5.95,5,4.5,3.5,2.2,1.65,1.1,.85,.5],
[5.05,4.25,3.8,2.95,2.4,1.55,1,.6,.4],
[4.75,3.95,3.55,2.6,2.25,1.7,1.1,.55,.5],
[5.35,4.8,3.5,3.5,2.45,1.6,1.2,.9,.7],
[6.3,5.7,4.35,3.85,2.3,1.95,1.6,1.3,.75],
[4.4,4.2,3.7,3.5,2.4,1.7,1.3,.8,.05],
[4.75,4.65,3.95,3.65,2.25,1.65,1.5,1.45,.85],
[5.9,4.75,3.95,3.1,2.55,2.05,1.3,1.1,.65],
[6.35,5.1,5,4.4,3.35,2.4,1.6,1.1,.05,1.7],
[5.45,5.05,3.6,3.3,2.9,2.6,2.05,1.6,.85,.75]];
const dPower = [
[1.9,1.8,1.1,.95,.85,.8,.5,.45,.25,.15],
[4.05,3.05,1.5,1.35,1.15,1.05,.8,.75,.55,.2],
[3.8,3.55,1.55,1.45,1.3,1.1,.85,.6,.2],
[3.4,2.35,1.85,1.3,1.1,.9,.65,.3],
[3.3,2.65,1.75,1.55,1.2,.6,.55],
[6.25,3.3,2.6,2.35,1.7,1.05,.85,.6],
[6.95,4.1,2.65,2.5,1.55,1.25,.65,.3],
[7.05,3,2.55,1.85,1.3,.8,.35,.15],
[4.5,3.6,2.7,1.9,1.25,.85,.55,.3,.05],
[5.65,3.85,3.7,2.95,1.7,.95,.6,.05,.65],
[3.7,3.4,3.2,2.6,1.65,1.4,.85,.45,.05],
[4.95,3.85,3.1,2.95,2.3,1.5,.45,.35],
[7.35,5.25,3.55,3.45,2.8,1.4,.85,.55,0],
[4.05,3.2,2.8,2.3,1.6,1.05,.8,.5],
[5.1,4.6,3.7,2.7,2.2,1.85,1,.85,.3],
[5.65,3.2,2.75,2.2,1.85,1.35,.55,.2],
[4.05,3.25,2.85,2.3,1.5,1.3,.75,.4],
[4,2.85,2.25,1.95,1.6,1.45,.9,.35],
[6.2,3.9,3.85,2.95,2.8,1.35,.75,.5],
[4.05,3.3,3,2.1,1.95,1.4,.85],
[5.3,4.9,4.75,3.25,1.9,1.65,1.2,.35],
[6.2,4.15,3.6,2.35,1.35,1.15,.7],
[5.45,4.2,4.05,3.7,2.6,2.1,1.2,.85],
[4.2,3.7,3,2.25,1.65,1.1,.7,1.95],
[5.65,5.5,3.4,3.2,2.1,1.7,1.3,.8],
[5.95,5.1,4.05,3.5,2.25,1.25,.8,.85],
[4.7,3.8,2.95,2.45,1.6,1.45,.95,.55],
[5.3,5,4.1,3.4,2.2,1.75,.8,.5],
[5.9,5.5,5,4.95,3.05,2.6,1.8,.75],
[4.95,3.65,3.5,2.3,1.7,1.45,.5,.2],
[5,3.1,2.7,2.4,1.7,1.3,.6,.95],
[5.6,4.5,3.1,2.5,1.75,1.65,.6,.2],
[5.45,5.2,3.3,2.05,1.5,.7,.3,1.1],
[5.95,3.6,3.25,2.4,1.95,1.5,1.05,.35],
[5.75,5.1,3.4,2.6,1.8,1.5,.9,.5],
[7.05,4.5,4.15,2.9,2.1,1.7,1.3,.65],
[6.9,5.1,3.9,3.35,2.5,1.5,.75,0],
[6.35,6.25,3.55,2.6,1.9,1.35,1.1,.85],
[4.4,3.3,3.25,2.55,1.75,1.45,1.3,.5],
[5.65,4.2,3.6,2.9,1.55,1.05,.65,.3],
[5.4,4.65,3.6,3.2,2.05,1.4,.7,.5],
[6.1,3.2,2.5,2,1.55,1.05,.6,.45],
[6,3.85,3.55,2.4,2.05,1.3,.95,.3],
[5.6,4.7,4.2,2.85,2.45,1.4,1,.8],
[6.1,5.2,3.5,3,2.3,1.55,.65,0],
[5.2,3.7,3.45,3.3,2.3,1.6,.95,.9],
[6,5.1,3.4,3.3,2.7,1.5,.8,.35],
[4.95,3.6,3,2.45,1.85,1.35,.95,.85],
[6.5,5.7,3.9,2.95,2.1,1.45,1.2,.75],
[8.05,4.3,4.05,3.6,2.95,2.5,1.45,.75,.4]];

// ---- panel D: the crowded lower band, further recordings per trial 1..50 ----
const dControlLow = [
[1.95,.7,.45],[2.1,1.6,.6],[2.8,1.65,.45],[3.15,1.6,.45],[3.5,1.6,.75],[3.55,1.35,.6],[3.6,2.1,.85],[3.3,2.05,.75],[3.6,1.55,.85],[3.75,1.2,.35],
[3.55,2.2,1.45],[3.35,2.15,1.35],[3.55,3.1,2.05],[3.85,2.6,1.15],[3.4,2.15,1.25],[3.15,2.9,1.95],[3.55,2.75,1.55],[3.25,2.55,.8],[3.55,2.65,1.3],[3.6,2.05,.45],
[3.7,2.45,1.55],[3.4,2.75,1.85],[3.75,2.45,1.35],[3.4,2.75,1.45],[3.6,2.2,1.25],[3.75,3.05,1.45],[3.55,3.15,1.05],[3.5,3.1,1.25],[3.25,2.9,1.15],[3.55,3.1,1.7],
[3,2.55,1.2],[3.7,3,1.25],[3.45,2.75,1.15],[3.5,3.05,1.45],[3.2,2.4,1.05],[3.55,2.75,1.35],[3.8,2.55,1.25],[3.45,3.05,1.25],[3.75,2.85,1.2],[3.55,2.9,1.3],
[3.65,1.7,.75],[3.85,2.7,1.85],[3.2,2.7,1.25],[3.65,2.75,1.55],[3.05,2.1,1.25],[3.65,3,1.1],[3.6,2.5,1.2],[3.35,2.65,1.2],[3.55,2.3,1.5],[3.7,2.05,1.45]];
const dBalanceLow = [
[1.55,.95,.55],[1.85,.8,.4],[2.05,.85,.6],[2.6,1.35,1],[2.95,1.4,.6],[3.15,1.7,.95],[3.15,1.6,1.05],[3.3,2.4,1.15],[3.3,1.55,1.1],[2.95,1.8,1.15],
[3.35,1.45,1.05],[3.25,1.25,1],[3.1,1.3,1.05],[3.3,1.55,1],[3.35,1.65,.85],[3.25,2.5,1.2],[3.35,2.9,1.15],[3.05,1.6,1.2],[3,1.45,.85],[3.4,2.6,1.1],
[2.7,1.75,1.15],[3.3,2.4,1.05],[3.35,2.25,1.3],[2.85,2.55,1.1],[3.05,2.5,1.15],[3.2,2.8,1.3],[3.45,1.5,1.2],[3.35,2.75,.95],[3.25,2.1,1.15],[3.5,2.65,1.15],
[3.25,2.75,1.2],[3.55,2.3,1.25],[3.5,2.9,1.05],[3,2.7,1.2],[3.1,2.6,1.1],[3.25,1.45,.95],[3.5,2.85,1.2],[3.35,2.65,1.1],[3.45,3,1.3],[2.85,2.5,1.05],
[3.35,2.75,1.25],[3.1,2.65,1.1],[3.3,2.75,1.2],[3.4,2.55,1.3],[3.5,2.75,1.05],[3.05,2.75,1.2],[3.2,2.6,1.25],[3.4,2.55,1],[3,2.05,.95],[3.45,2.4,.95]];
const dPowerLow = [
[2.2,1.25,.7],[2.35,1.05,.9],[3.1,2.1,.95],[2.75,2.05,.75],[2.95,2.4,.9],[3.2,1.35,1.1],[3.05,2.3,.95],[3.55,2.7,1.05],[3.45,2.3,1.15],[3.35,2.55,1.3],
[3.1,2.2,1.3],[3.4,1.7,.95],[2.65,1.75,1.05],[3.45,1.8,1.25],[3.2,1.4,.65],[2.5,1.15,.85],[3.3,1.85,1.15],[3.2,1.2,1],[3.3,1.75,1.1],[2.95,2.55,.6],
[3.4,2.45,.75],[3.5,1.9,.95],[3.35,1.5,.95],[3.1,2.75,1.2],[3.35,2.6,1.15],[3,2.7,1.15],[3.45,1.85,1.25],[2.85,2.5,1.15],[3.6,1.7,1.2],[3.2,2.75,.95],
[3.45,1.85,1.15],[3.55,2.3,1.3],[2.75,2.5,.95],[3.35,2.75,1.15],[3.55,2.35,1.05],[3.1,2.55,.8],[3.5,2.25,1.15],[2.9,2.35,1.05],[3.1,1.85,1.2],[3.35,2.35,.85],
[2.85,1.5,1.15],[3.15,1.7,.9],[3.3,2.75,.65],[3.05,1.6,1.05],[3.4,1.9,.95],[2.75,1.75,1.15],[3.45,2.3,1.15],[3.3,2.7,1.1],[3.55,1.85,1.15],[3.35,2.75,1.05]];

// ---- styling ----
const colors = ['#000000', '#00BFFF', '#FFA500'];
const dotColors = ['rgba(0,0,0,0.4)', 'rgba(0,191,255,0.4)', 'rgba(255,165,0,0.4)'];
const font = '"Liberation Sans", Arial, sans-serif';

const panels = [
  {left: 113.9, top: 121.2, width: 862.2, min: 0.55, max: 10.45, major: xTicksShort, minor: xMinorShort,
   groups: [[aControl], [aBalance], [aPower]], ceiling: null, lines: aLines, last: 10, yName: 'Sensoboard performance (in s)', xName: ''},
  {left: 1081.8, top: 121.2, width: 862.4, min: -1.45, max: 52.45, major: xTicksLong, minor: xMinorLong,
   groups: [[bControl, bControlLow], [bBalance, bBalanceLow], [bPower, bPowerLow]], ceiling: [bTopControl, bTopBalance, bTopPower], lines: bLines, last: 50, yName: '', xName: ''},
  {left: 113.9, top: 755.9, width: 862.2, min: 0.55, max: 10.45, major: xTicksShort, minor: xMinorShort,
   groups: [[cControl], [cBalance], [cPower]], ceiling: null, lines: cLines, last: 10, yName: 'Tilt-board performance (in s)', xName: 'Number of trials'},
  {left: 1081.8, top: 755.9, width: 862.4, min: -1.45, max: 52.45, major: xTicksLong, minor: xMinorLong,
   groups: [[dControl, dControlLow], [dBalance, dBalanceLow], [dPower, dPowerLow]], ceiling: null, lines: dLines, last: 50, yName: '', xName: 'Number of trials'}
];

const grid = [], xAxis = [], yAxis = [], series = [];
const majorLine = {show: true, lineStyle: {color: '#EBEBEB', width: 2.6}};
const minorLine = {show: true, lineStyle: {color: '#EEEEEE', width: 1.5}};
const hidden = {axisLine: {show: false, onZero: false}};

panels.forEach((p, i) => {
  grid.push({left: p.left, top: p.top, width: p.width, height: 539, outerBoundsMode: 'none', containLabel: false});
  xAxis.push({type: 'value', gridIndex: i, position: 'bottom', min: p.min, max: p.max, ...hidden,
    axisTick: {show: false, customValues: p.minor}, axisLabel: {show: false, customValues: p.minor}, splitLine: minorLine});
  const xIdx = xAxis.length;
  xAxis.push({type: 'value', gridIndex: i, position: 'bottom', min: p.min, max: p.max, ...hidden,
    axisTick: {show: false, customValues: p.major},
    axisLabel: {customValues: p.major, color: '#4D4D4D', fontFamily: font, fontSize: 22, margin: 9, showMinLabel: true, showMaxLabel: true},
    splitLine: majorLine, name: p.xName, nameLocation: 'middle', nameGap: 54, nameMoveOverlap: false,
    nameTextStyle: {color: '#000', fontFamily: font, fontSize: 28, verticalAlign: 'middle'}});
  yAxis.push({type: 'value', gridIndex: i, position: 'left', min: -0.5, max: 10.5, ...hidden,
    axisTick: {show: false, customValues: yMinor}, axisLabel: {show: false, customValues: yMinor}, splitLine: minorLine});
  const yIdx = yAxis.length;
  yAxis.push({type: 'value', gridIndex: i, position: 'left', min: -0.5, max: 10.5, ...hidden,
    axisTick: {show: false, customValues: yTicks},
    axisLabel: {customValues: yTicks, formatter: v => Number(v).toFixed(1), color: '#4D4D4D', fontFamily: font, fontSize: 22, margin: 12, showMinLabel: true, showMaxLabel: true},
    splitLine: majorLine, name: p.yName, nameLocation: 'middle', nameGap: 76, nameRotate: 90, nameMoveOverlap: false,
    nameTextStyle: {color: '#000', fontFamily: font, fontSize: 28, verticalAlign: 'middle'}});

  p.groups.forEach((sets, g) => {
    const data = [];
    sets.forEach(lists => lists.forEach((vals, k) => vals.forEach(v => data.push([k + 1, v]))));
    if (p.ceiling) p.ceiling[g].forEach((count, k) => { for (let n = 0; n < count; n++) data.push([k + 1, 10]); });
    series.push({type: 'scatter', name: groupNames[g] + ' trials ' + i, xAxisIndex: xIdx, yAxisIndex: yIdx, data,
      symbol: 'circle', symbolSize: 9.5, silent: true, z: 2,
      itemStyle: {color: dotColors[g], borderColor: dotColors[g], borderWidth: 1.2, opacity: 1}});
  });
  p.lines.forEach((ends, g) => {
    series.push({type: 'line', name: i === 0 ? groupNames[g] : groupNames[g] + ' fit ' + i, xAxisIndex: xIdx, yAxisIndex: yIdx,
      data: [[1, ends[0]], [p.last, ends[1]]], silent: true, z: 3 + g,
      symbol: 'circle', symbolSize: 9, showSymbol: false,
      lineStyle: {color: colors[g], width: 5.8, cap: 'butt'}, itemStyle: {color: dotColors[g]}});
  });
});

const tags = [['A', 0, 0], ['B', 1004, 0], ['C', 0, 726], ['D', 1003, 726]];

const chart = echarts.init(document.getElementById('c'), null, {renderer: 'canvas'});
chart.setOption({
  animation: false,
  backgroundColor: '#fff',
  title: tags.map(t => ({text: t[0], left: t[1], top: t[2], padding: 0,
    textStyle: {fontFamily: font, fontSize: 34, fontWeight: 'normal', color: '#000'}})),
  legend: {
    data: groupNames, left: 351, top: 53, orient: 'horizontal', padding: 0,
    itemWidth: 33, itemHeight: 14, itemGap: 16,
    lineStyle: {width: 5.8},
    textStyle: {fontFamily: font, fontSize: 22, color: '#000', padding: [0, 0, 0, 10]}
  },
  grid, xAxis, yAxis, series
});
</script>
</body>
</html>
